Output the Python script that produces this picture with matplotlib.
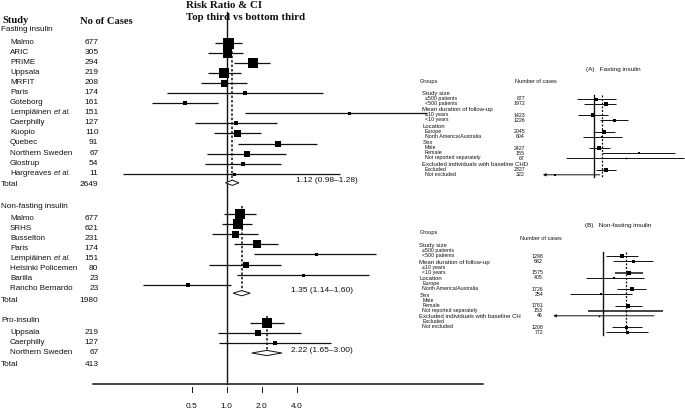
import matplotlib
matplotlib.use('Agg')
import matplotlib.pyplot as plt
import numpy as np

W, H = 685, 412
SANS = ['Liberation Sans', 'DejaVu Sans']
SERIF = ['Liberation Serif', 'DejaVu Serif']
INK = '#111111'

# ---------------- data: main forest plot ----------------
fast_studies = ['Malmo', 'ARIC', 'PRIME', 'Uppsala', 'MRFIT', 'Paris', 'Goteborg',
                'Lempiäinen', 'Caerphilly', 'Kuopio', 'Quebec', 'Northern Sweden',
                'Glostrup', 'Hargreaves']
fast_etal = [False, False, False, False, False, False, False, True,
             False, False, False, False, False, True]
fast_cases = [677, 305, 294, 219, 208, 174, 161, 151, 127, 110, 91, 67, 54, 11]
fast_rr = [1.03, 1.00, 1.70, 0.955, 0.955, 1.44, 0.44, 11.4, 1.21, 1.24, 2.78, 1.51, 1.40, 1.17]
fast_lo = [0.79, 0.70, 1.17, 0.70, 0.60, 0.31, 0.23, 1.44, 0.54, 0.78, 1.25, 0.68, 0.65, 0.13]
fast_hi = [1.36, 1.39, 2.39, 1.32, 1.51, 6.74, 0.84, 53.0, 2.73, 1.99, 6.03, 3.22, 2.97, 9.5]
fast_weight = [11, 9, 10, 10, 7, 4, 5, 3, 5, 7, 6, 6, 5, 3]
fast_total = (1.12, 0.98, 1.28)

nf_studies = ['Malmo', 'SRHS', 'Busselton', 'Paris', 'Lempiäinen',
              'Helsinki Policemen', 'Barilla', 'Rancho Bernardo']
nf_etal = [False, False, False, False, True, False, False, False]
nf_cases = [677, 621, 231, 174, 151, 80, 23, 23]
nf_rr = [1.30, 1.25, 1.18, 1.82, 5.9, 1.48, 4.53, 0.47]
nf_lo = [0.95, 0.92, 0.75, 1.17, 1.72, 0.71, 1.24, 0.19]
nf_hi = [1.81, 1.66, 1.86, 2.78, 19.5, 2.97, 16.7, 1.10]
nf_weight = [10, 10, 7, 8, 3, 6, 3, 5]
nf_total = (1.35, 1.14, 1.60)

pro_studies = ['Uppsala', 'Caerphilly', 'Northern Sweden']
pro_etal = [False, False, False]
pro_cases = [219, 127, 67]
pro_rr = [2.24, 1.88, 2.62]
pro_lo = [1.58, 0.84, 0.87]
pro_hi = [3.11, 4.33, 7.86]
pro_weight = [10, 6, 4]
pro_total = (2.22, 1.65, 3.00)

group_names = ['Fasting insulin', 'Non-fasting insulin', 'Pro-insulin']
x_ticks = [0.5, 1.0, 2.0, 4.0]
x_ticklabels = ['0.5', '1.0', '2.0', '4.0']

# ---------------- data: subgroup insets ----------------
sub_headers_a = ['Study size', 'Mean duration of follow-up', 'Location', 'Sex',
                 'Excluded individuals with baseline CHD']
sub_headers_b = ['Study size', 'Mean duration of follow-up', 'Location', 'Sex',
                 'Excluded individuals with baseline CH']
sub_items = [['≥500 patients', '<500 patients'], ['≥10 years', '<10 years'],
             ['Europe', 'North America/Australia'],
             ['Male', 'Female', 'Not reported separately'],
             ['Excluded', 'Not excluded']]

a_cases = [677, 1972, 1423, 1226, 2045, 604, 2427, 155, 67, 2327, 322]
a_rr = [1.03, 1.17, 0.98, 1.32, 1.14, 1.11, 1.07, 1.86, 1.55, 1.18, 0.58]
a_lo = [0.79, 0.87, 0.80, 1.08, 0.98, 0.86, 0.93, 1.12, 0.68, 1.02, 0.49]
a_hi = [1.36, 1.36, 1.21, 1.60, 1.33, 1.46, 1.24, 3.06, 3.47, 1.35, 1.08]
a_weight = [3, 4, 4, 3, 4, 2, 4, 2, 1.5, 4, 2]
a_arrow = [False] * 10 + [True]

b_cases = [1298, 682, 1575, 405, 1726, 254, 1781, 153, 46, 1208, 772]
b_rr = [1.28, 1.48, 1.40, 1.15, 1.45, 0.97, 1.39, 1.34, 0.95, 1.35, 1.36]
b_lo = [1.04, 1.14, 1.17, 0.80, 1.20, 0.65, 1.17, 0.82, 0.52, 1.12, 1.04]
b_hi = [1.58, 1.92, 1.67, 1.71, 1.75, 1.45, 1.65, 2.18, 1.94, 1.65, 1.79]
b_weight = [4, 3, 4, 2, 4, 2, 4, 1.5, 1.5, 3, 3]
b_arrow = [False] * 8 + [True, False, False]
b_thick = [False, False, True, False, False, False, False, True, False, False, False]

# ---------------- figure / axes ----------------
fig = plt.figure(figsize=(W / 100, H / 100), dpi=100)
fig.patch.set_facecolor('white')


def log_axes(center_px, px_per_doubling):
    ax = fig.add_axes([0, 0, 1, 1])
    ax.set_xscale('log', base=2)
    ax.set_xlim(2 ** (-center_px / px_per_doubling), 2 ** ((W - center_px) / px_per_doubling))
    ax.set_ylim(H, 0)
    ax.axis('off')
    ax.patch.set_alpha(0)
    return ax


ax = log_axes(226.5, 35.0)
tx = fig.add_axes([0, 0, 1, 1])
tx.set_xlim(0, W)
tx.set_ylim(H, 0)
tx.axis('off')
tx.patch.set_alpha(0)


def txt(x, y, s, size=6.0, **kw):
    kw.setdefault('va', 'center')
    kw.setdefault('family', SANS)
    tx.text(x, y, s, fontsize=size, color=INK, **kw)


# headings
txt(2, 20, 'Study', size=7.6, family=SERIF, weight='bold')
txt(80, 21.5, 'No of Cases', size=7.6, family=SERIF, weight='bold')
txt(186.5, 5.5, 'Risk Ratio & CI', size=7.8, family=SERIF, weight='bold')
txt(186.5, 17.5, 'Top third vs bottom third', size=7.8, family=SERIF, weight='bold')

groups = [
    (fast_studies, fast_etal, fast_cases, fast_rr, fast_lo, fast_hi, fast_weight, fast_total),
    (nf_studies, nf_etal, nf_cases, nf_rr, nf_lo, nf_hi, nf_weight, nf_total),
    (pro_studies, pro_etal, pro_cases, pro_rr, pro_lo, pro_hi, pro_weight, pro_total),
]
header_y = [29.5, 206.5, 320.0]
first_row_y = [42.0, 218.0, 332.0]
row_step = [10.1, 10.1, 10.0]
total_gap = [10.8, 11.5, 12.5]
mark_shift = [0.5, -4.0, -9.0]
diamond_shift = [-1.3, -7.0, -11.5]
dash_top = [38.0, 206.0, 316.0]
summary_x = [296.5, 291.5, 291.5]

for g, (names, etal, cases, rr, lo, hi, wt, tot) in enumerate(groups):
    txt(1, header_y[g], group_names[g], size=5.9)
    ys = [first_row_y[g] + i * row_step[g] for i in range(len(names))]
    for i, y in enumerate(ys):
        txt(10, y, names[i], size=5.8)
        if etal[i]:
            txt(54.5, y, 'et al.', style='italic', size=5.4)
        txt(98.5, y, str(cases[i]), ha='right')
        my = y + mark_shift[g]
        ax.plot([lo[i], hi[i]], [my, my], color=INK, lw=0.9, solid_capstyle='butt', zorder=2)
        ax.plot([rr[i]], [my], marker='s', ms=wt[i] * 0.72, color='black', mew=0, zorder=3)
    ty = ys[-1] + total_gap[g]
    txt(1, ty, 'Total', size=5.9)
    txt(98.5, ty, str(sum(cases)), ha='right')
    est, tlo, thi = tot
    dy = ty + diamond_shift[g]
    ax.fill([tlo, est, thi, est], [dy, dy - 2.6, dy, dy + 2.6], facecolor='white',
            edgecolor=INK, lw=0.7, zorder=4)
    ax.plot([est, est], [dash_top[g], dy - 2.6], color=INK, lw=1.1,
            ls=(0, (1.6, 1.3)), zorder=1)
    txt(summary_x[g], dy - 2.5, f'{est:.2f} ({tlo:.2f}\u2013{thi:.2f})', size=6.0)

# reference line and bottom axis
ax.plot([1.0, 1.0], [12, 384.3], color=INK, lw=1.0, zorder=1)
ax.plot([0.0708, 160.0], [384.3, 384.3], color=INK, lw=1.1)
for v, lab in zip(x_ticks, x_ticklabels):
    ax.plot([v, v], [387, 392], color=INK, lw=0.7)
    ax.text(v, 406, lab, ha='center', va='center', fontsize=6, family=SANS, color=INK)


# ---------------- insets ----------------
def inset_rows(y0):
    heads, items = [], []
    cur = y0
    for it in sub_items:
        heads.append(cur)
        cur += 5
        for _ in it:
            items.append(cur)
            cur += 5
        cur += 1.5
    return heads, items


def draw_inset(center_px, ppd, title, title_xy, groups_y, ncases_xy, headers, y0,
               head_x, item_x, num_x, num_shift, cases, rr, lo, hi, wt, arrow,
               pooled, line_y, thick=None):
    iax = log_axes(center_px, ppd)
    txt(title_xy[0], title_xy[1], title, size=4.6)
    txt(420, groups_y, 'Groups', size=4.0)
    txt(ncases_xy[0], ncases_xy[1], 'Number of cases', size=4.0)
    heads, items = inset_rows(y0)
    for h, s in zip(heads, headers):
        txt(head_x, h, s, size=4.3)
    flat = [s for it in sub_items for s in it]
    for i, (yy, s) in enumerate(zip(items, flat)):
        txt(item_x, yy, s, size=3.8)
        my = yy + num_shift
        txt(num_x, my, str(cases[i]), ha='right', size=3.8)
        lw = 1.1 if (thick is not None and thick[i]) else 0.7
        if arrow[i]:
            iax.annotate('', xy=(lo[i], my), xytext=(hi[i], my),
                         arrowprops=dict(arrowstyle='-|>', color=INK, lw=lw,
                                         mutation_scale=4, shrinkA=0, shrinkB=0))
        else:
            iax.plot([lo[i], hi[i]], [my, my], color=INK, lw=lw, solid_capstyle='butt')
        iax.plot([rr[i]], [my], marker='s', ms=wt[i] * 0.72, color='black', mew=0)
    iax.plot([1.0, 1.0], line_y, color=INK, lw=1.0)
    iax.plot([pooled, pooled], line_y, color=INK, lw=0.9, ls=(0, (1.6, 1.3)))


draw_inset(594.3, 50.0, '(A)   Fasting insulin', (586.5, 69.0), 81.7, (515, 81.7),
           sub_headers_a, 93.3, 422.5, 425.0, 525.0, 0.5,
           a_cases, a_rr, a_lo, a_hi, a_weight, a_arrow, fast_total[0], [95.0, 176.5])

draw_inset(603.3, 53.0, '(B)   Non-fasting insulin', (585.5, 225.7), 232.7, (520, 238.3),
           sub_headers_b, 245.7, 419.5, 422.5, 543.0, 5.6,
           b_cases, b_rr, b_lo, b_hi, b_weight, b_arrow, nf_total[0], [251.7, 334.5],
           thick=b_thick)

fig.savefig('out.png', dpi=100, facecolor='white')
